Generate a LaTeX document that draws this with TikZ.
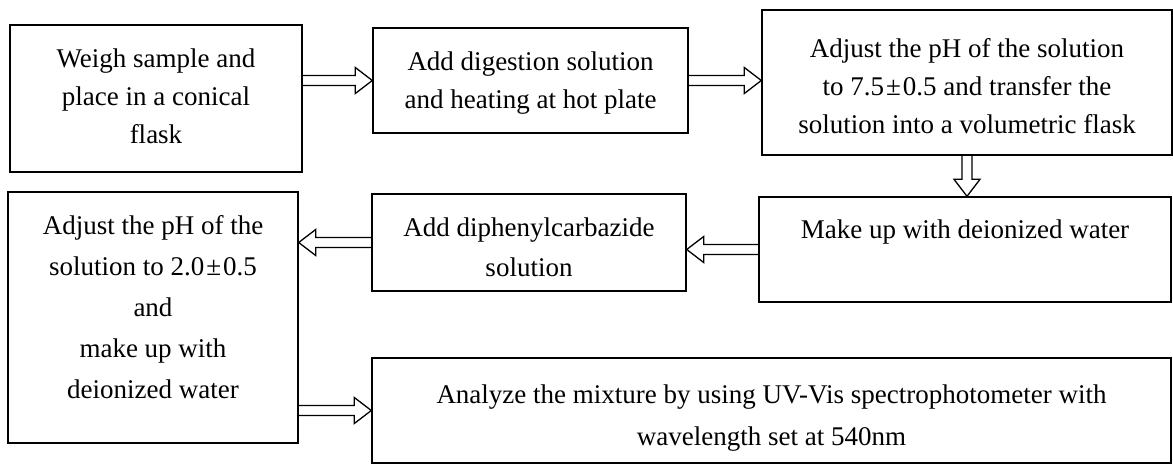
\documentclass[tikz,border=0pt]{standalone}
\usepackage{fontspec}
\setmainfont{Liberation Serif}
\usetikzlibrary{calc}
\tikzset{
  box/.style={draw, line width=1.4pt, rectangle, align=center, inner sep=2pt,
    text depth=10pt, font=\fontsize{27}{38}\selectfont},
  dbl/.style={draw, line width=1.3pt, line join=miter,
    to path={($(\tikztostart)!5pt!90:(\tikztotarget)$)
      -- ($(\tikztotarget)!17.72pt!-16.39:(\tikztostart)$)
      -- ($(\tikztotarget)!21.4pt!-37.4:(\tikztostart)$)
      -- (\tikztotarget)
      -- ($(\tikztotarget)!21.4pt!37.4:(\tikztostart)$)
      -- ($(\tikztotarget)!17.72pt!16.39:(\tikztostart)$)
      -- ($(\tikztostart)!5pt!-90:(\tikztotarget)$)}}
}
\begin{document}
\begin{tikzpicture}[x=1pt,y=-1pt]
\useasboundingbox[fill=white] (0,0) rectangle (1173,464);
\node[box, minimum width=292pt, minimum height=147pt, text height=99pt] (b1) at (156,98.5)
  {Weigh sample and\\place in a conical\\flask};
\node[box, minimum width=315pt, minimum height=105pt, text height=65pt] (b2) at (530.5,80.5)
  {Add digestion solution\\and heating at hot plate};
\node[box, minimum width=410pt, minimum height=145pt, text height=111pt] (b3) at (967,82.5)
  {Adjust the pH of the solution\\to 7.5\kern2pt±\kern2pt0.5 and transfer the\\solution into a volumetric flask};
\node[box, minimum width=412pt, minimum height=105pt, text height=20pt, text depth=43pt] (b4) at (965,249.5)
  {Make up with deionized water};
\node[box, minimum width=314pt, minimum height=97pt, text height=77pt, font=\fontsize{27}{40}\selectfont] (b5) at (529,242.5)
  {Add diphenylcarbazide\\solution};
\node[box, minimum width=290pt, minimum height=251pt, font=\fontsize{27}{41}\selectfont, text height=171pt] (b6) at (153,317.5)
  {Adjust the pH of the\\solution to 2.0\kern2pt±\kern2pt0.5\\and\\make up with\\deionized water};
\node[box, minimum width=799pt, minimum height=105pt, font=\fontsize{27}{42}\selectfont, text height=79pt] (b7) at (771.5,410.5)
  {Analyze the mixture by using UV-Vis spectrophotometer with\\wavelength set at 540nm};
\draw[dbl] (b1.east |- b2.west) to (b2.west);
\draw[dbl] (b2.east) to (b2.east -| b3.west);
\draw[dbl] (b3.south) to (b3.south |- b4.north);
\draw[dbl] (b4.west) to (b4.west -| b5.east);
\draw[dbl] (b5.west) to (b5.west -| b6.east);
\draw[dbl] (b6.east |- b7.west) to (b7.west);
\end{tikzpicture}
\end{document}
